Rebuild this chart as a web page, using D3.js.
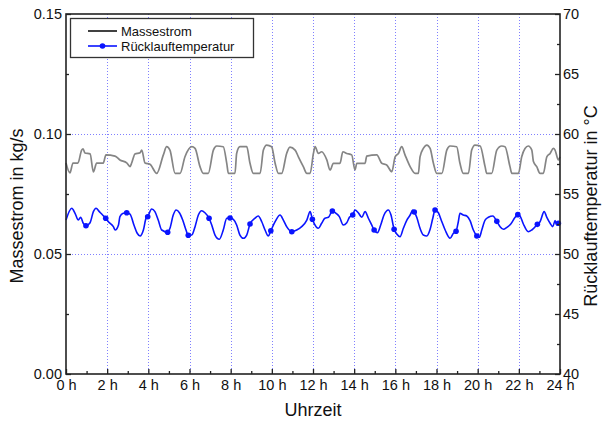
<!DOCTYPE html>
<html><head><meta charset="utf-8">
<script src="https://cdn.jsdelivr.net/npm/d3@7"></script>
<style>body{margin:0;background:#fff}svg{display:block}text{font-family:Arial,"Liberation Sans",sans-serif}</style>
</head><body>
<svg id="c" width="603" height="424"></svg>
<script>
// Massestrom (kg/s) - gray line, left axis
const massTime = [0,0.19,0.34,0.58,0.76,0.83,0.92,1.17,1.33,1.49,1.81,1.94,2.38,2.62,2.95,3.11,3.19,3.35,3.60,3.68,3.84,4.08,4.41,4.73,4.89,5.05,5.30,5.54,5.78,6.11,6.27,6.51,6.67,6.91,7.16,7.32,7.64,7.81,7.89,8.21,8.29,8.45,8.78,8.94,9.10,9.43,9.59,9.75,9.99,10.16,10.32,10.48,10.72,10.88,11.13,11.29,11.53,11.70,11.86,12.02,12.10,12.26,12.42,12.67,12.83,12.99,13.31,13.45,13.64,13.88,14.04,14.13,14.53,14.61,15.10,15.34,15.58,15.83,15.99,16.15,16.31,16.47,16.72,16.96,17.12,17.20,17.36,17.53,17.69,17.85,18.01,18.26,18.50,18.66,18.98,19.14,19.30,19.55,19.71,19.87,20.12,20.36,20.44,20.68,20.93,21.17,21.33,21.57,21.66,21.98,22.14,22.30,22.46,22.63,22.71,22.87,23.03,23.19,23.36,23.52,23.68,23.76,23.92,24.0];
const massValue = [0.0879,0.0838,0.0879,0.0879,0.0933,0.0938,0.0921,0.0917,0.0842,0.0879,0.0879,0.0913,0.0908,0.0892,0.0880,0.0864,0.0879,0.0917,0.0922,0.0933,0.0879,0.0874,0.0836,0.0913,0.0947,0.0933,0.0836,0.0836,0.0905,0.0947,0.0940,0.0864,0.0836,0.0836,0.0933,0.0950,0.0947,0.0878,0.0836,0.0836,0.0919,0.0947,0.0947,0.0878,0.0836,0.0836,0.0933,0.0954,0.0947,0.0878,0.0836,0.0836,0.0919,0.0945,0.0933,0.0905,0.0864,0.0836,0.0836,0.0919,0.0947,0.0919,0.0926,0.0892,0.0850,0.0878,0.0878,0.0926,0.0919,0.0913,0.0850,0.0878,0.0878,0.0908,0.0913,0.0878,0.0871,0.0843,0.0905,0.0919,0.0947,0.0913,0.0864,0.0836,0.0836,0.0905,0.0940,0.0954,0.0940,0.0878,0.0836,0.0836,0.0933,0.0950,0.0947,0.0878,0.0836,0.0836,0.0933,0.0954,0.0950,0.0864,0.0836,0.0836,0.0933,0.0950,0.0947,0.0864,0.0836,0.0836,0.0905,0.0940,0.0950,0.0933,0.0885,0.0864,0.0836,0.0836,0.0905,0.0919,0.0940,0.0933,0.0892,0.0905];

// Rücklauftemperatur (°C) - blue line, right axis
const tempTime = [0,0.28,0.44,0.60,0.71,0.84,0.97,1.17,1.33,1.46,1.62,1.78,1.93,2.06,2.30,2.39,2.55,2.62,2.78,2.95,3.11,3.30,3.46,3.60,3.76,3.89,3.97,4.16,4.32,4.48,4.65,4.94,5.05,5.21,5.35,5.51,5.67,5.83,5.94,6.11,6.27,6.43,6.59,6.75,6.95,7.08,7.24,7.45,7.64,7.81,7.97,8.13,8.29,8.45,8.62,8.78,8.94,9.18,9.34,9.51,9.67,9.83,9.95,10.16,10.40,10.56,10.72,10.97,11.21,11.45,11.70,11.86,11.97,12.15,12.26,12.42,12.58,12.75,12.94,13.12,13.28,13.47,13.64,13.77,13.93,14.04,14.20,14.37,14.53,14.69,14.85,14.97,15.13,15.29,15.45,15.66,15.79,15.94,16.07,16.23,16.39,16.56,16.72,16.85,16.92,17.04,17.20,17.36,17.53,17.69,17.82,17.93,18.09,18.26,18.42,18.66,18.82,18.95,19.06,19.14,19.30,19.47,19.63,19.79,19.96,20.08,20.20,20.36,20.52,20.74,20.93,21.09,21.25,21.42,21.61,21.82,21.95,22.06,22.22,22.46,22.63,22.90,23.03,23.23,23.36,23.52,23.65,23.76,23.84,23.92,24.0];
const tempValue = [52.83,53.81,53.39,52.83,53.06,52.56,52.36,52.61,53.53,53.81,53.53,53.25,52.98,52.69,52.28,52.00,52.42,53.11,53.39,53.44,53.33,52.42,51.73,51.50,52.00,52.98,53.11,53.75,53.53,52.83,52.00,51.81,52.14,53.25,53.67,53.44,52.83,52.00,51.56,51.58,52.28,53.25,53.61,53.44,52.98,52.42,51.58,51.23,52.00,52.98,53.00,52.89,52.42,51.58,51.31,51.58,52.50,52.98,53.17,52.69,52.00,51.50,51.94,52.69,53.25,52.83,52.28,51.86,52.00,52.28,52.83,53.53,52.89,52.28,52.14,52.56,52.98,53.06,53.58,53.39,53.11,52.42,52.61,53.06,53.25,53.67,53.44,53.06,53.53,52.98,52.42,52.00,51.78,52.42,53.25,53.67,53.25,52.06,51.67,51.44,52.14,52.83,53.25,53.67,53.50,53.06,52.14,51.58,51.50,52.06,52.98,53.67,53.44,52.69,52.00,51.31,51.73,51.89,52.69,53.39,53.25,53.17,52.78,52.00,51.50,51.39,52.00,52.83,53.06,53.17,52.72,52.28,52.06,52.22,52.50,53.06,53.28,53.17,52.50,51.86,52.00,52.47,52.69,53.53,53.06,52.56,52.28,52.78,52.42,52.56,52.61];
// marker positions (hours) on the temperature line
const markerTime = [0.97,1.93,2.95,3.97,4.94,5.94,6.95,7.97,8.94,9.95,10.97,11.97,12.94,13.93,14.97,15.94,16.92,17.93,18.95,19.96,20.93,21.95,22.90,23.92];

const xTicks = [0,2,4,6,8,10,12,14,16,18,20,22,24];
const xMinor = [1,3,5,7,9,11,13,15,17,19,21,23];
const leftTicks = [0,0.05,0.10,0.15];
const leftMinor = [0.025,0.075,0.125];
const rightTicks = [40,45,50,55,60,65,70];
const rightMinor = [42.5,47.5,52.5,57.5,62.5,67.5];
const xGrid = [2,4,6,8,10,12,14,16,18,20,22];
const yGrid = [0.05,0.10];

const W=603,H=424, L=66,R=560,T=14,B=374;
const svg = d3.select("#c");
const x = d3.scaleLinear([0,24],[L,R]);
const yL = d3.scaleLinear([0,0.15],[B,T]);
const yR = d3.scaleLinear([40,70],[B,T]);

// grid
const grid = svg.append("g").attr("stroke","#8080ff").attr("stroke-width",1).attr("stroke-dasharray","1,2");
grid.selectAll(".vg").data(xGrid).join("line").attr("x1",d=>Math.round(x(d))+0.5).attr("x2",d=>Math.round(x(d))+0.5).attr("y1",T).attr("y2",B);
grid.selectAll(".hg").data(yGrid).join("line").attr("y1",d=>Math.round(yL(d))+0.5).attr("y2",d=>Math.round(yL(d))+0.5).attr("x1",L).attr("x2",R);

// lines
const mass = massTime.map((t,i)=>[t,massValue[i]]);
const temp = tempTime.map((t,i)=>[t,tempValue[i]]);
svg.append("path").datum(mass).attr("fill","none").attr("stroke","#858585").attr("stroke-width",1.7)
  .attr("d", d3.line().x(d=>x(d[0])).y(d=>yL(d[1])).curve(d3.curveMonotoneX));
const tline = d3.line().x(d=>x(d[0])).y(d=>yR(d[1])).curve(d3.curveMonotoneX);
const tpath = svg.append("path").datum(temp).attr("fill","none").attr("stroke","#0a14ff").attr("stroke-width",1.6).attr("d", tline);
const markers = markerTime.map(t=>{ const i=tempTime.indexOf(t); return [t,tempValue[i]]; });
svg.append("g").selectAll("circle").data(markers).join("circle")
  .attr("cx",d=>x(d[0])).attr("cy",d=>yR(d[1])).attr("r",2.8).attr("fill","#0a14ff");

// axes
const fs = "14.5px";
function styleAxis(g){ g.select(".domain").remove(); g.selectAll("line").attr("stroke","#222").attr("stroke-width",1.3); g.selectAll("text").attr("font-size",fs).attr("fill","#111").attr("font-family","Arial, 'Liberation Sans', sans-serif"); }
svg.append("g").attr("transform",`translate(0,${B})`).call(d3.axisBottom(x).tickValues(xTicks).tickSize(-5).tickSizeOuter(0).tickPadding(6).tickFormat(d=>d+" h")).call(styleAxis);
svg.append("g").attr("transform",`translate(0,${B})`).call(d3.axisBottom(x).tickValues(xMinor).tickSize(-3).tickSizeOuter(0).tickFormat("")).call(styleAxis);
svg.append("g").attr("transform",`translate(${L},0)`).call(d3.axisLeft(yL).tickValues(leftTicks).tickSize(-5).tickSizeOuter(0).tickPadding(4).tickFormat(d3.format(".2f"))).call(styleAxis);
svg.append("g").attr("transform",`translate(${L},0)`).call(d3.axisLeft(yL).tickValues(leftMinor).tickSize(-3).tickSizeOuter(0).tickFormat("")).call(styleAxis);
svg.append("g").attr("transform",`translate(${R},0)`).call(d3.axisRight(yR).tickValues(rightTicks).tickSize(-5).tickSizeOuter(0).tickPadding(3).tickFormat(d3.format("d"))).call(styleAxis);
svg.append("g").attr("transform",`translate(${R},0)`).call(d3.axisRight(yR).tickValues(rightMinor).tickSize(-3).tickSizeOuter(0).tickFormat("")).call(styleAxis);

// frame
svg.append("rect").attr("x",L).attr("y",T).attr("width",R-L).attr("height",B-T).attr("fill","none").attr("stroke","#222").attr("stroke-width",1.6);

// titles
svg.append("text").attr("x",(L+R)/2).attr("y",416).attr("text-anchor","middle").attr("font-size","18px").attr("fill","#111").text("Uhrzeit");
svg.append("text").attr("transform","translate(23,206) rotate(-90)").attr("text-anchor","middle").attr("font-size","18px").attr("fill","#111").text("Massestrom in kg/s");
svg.append("text").attr("transform","translate(597,206) rotate(-90)").attr("text-anchor","middle").attr("font-size","18px").attr("fill","#111").text("Rücklauftemperatur in °C");

// legend
const lg = svg.append("g");
lg.append("rect").attr("x",70.5).attr("y",18.5).attr("width",183).attr("height",39).attr("fill","#fff").attr("stroke","#333").attr("stroke-width",1.3);
lg.append("line").attr("x1",88).attr("x2",117).attr("y1",31).attr("y2",31).attr("stroke","#111").attr("stroke-width",1.6);
lg.append("text").attr("x",121).attr("y",35.5).attr("font-size","13px").attr("fill","#111").text("Massestrom");
lg.append("line").attr("x1",88).attr("x2",117).attr("y1",46).attr("y2",46).attr("stroke","#0a14ff").attr("stroke-width",1.6);
lg.append("circle").attr("cx",102.5).attr("cy",46).attr("r",2.8).attr("fill","#0a14ff");
lg.append("text").attr("x",121).attr("y",50.5).attr("font-size","13px").attr("fill","#111").text("Rücklauftemperatur");
</script>
</body></html>
